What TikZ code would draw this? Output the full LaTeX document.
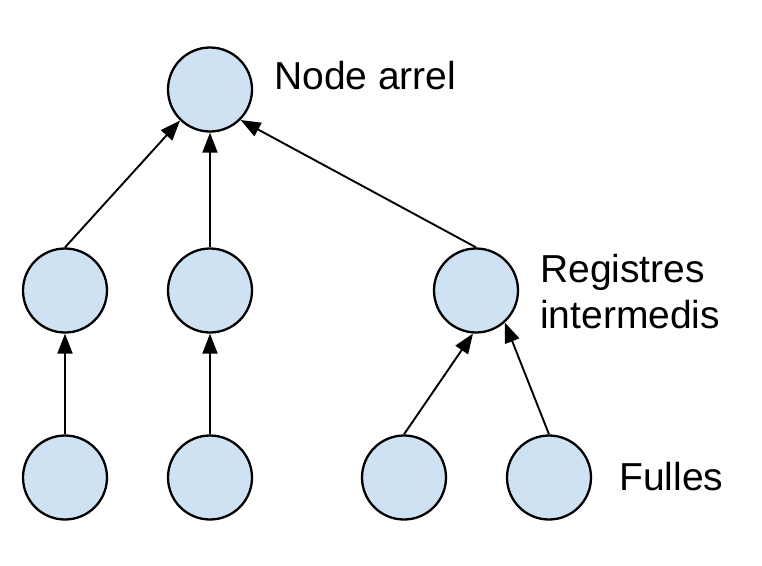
\documentclass[tikz,border=0pt]{standalone}
\usepackage{fontspec}
\setmainfont{Liberation Sans}
\usetikzlibrary{arrows.meta}
\definecolor{nodefill}{HTML}{CFE2F3}
\begin{document}
\begin{tikzpicture}[x=1pt,y=-1pt,
  treenode/.style={circle,draw=black,fill=nodefill,line width=2.3pt,minimum size=84pt,inner sep=0pt},
  edge/.style={line width=1.9pt,-{Triangle[length=20pt,width=15pt]}},
  lbl/.style={inner sep=0pt,anchor=base west,font=\fontsize{39}{46}\selectfont,align=left}]
\useasboundingbox[fill=white] (0,0) rectangle (762,565);
\node[treenode] (r) at (210,89.5) {};
\node[treenode] (m1) at (65,290.5) {};
\node[treenode] (m2) at (210,290.5) {};
\node[treenode] (m3) at (476,290.5) {};
\node[treenode] (l1) at (65,477.5) {};
\node[treenode] (l2) at (210,477.5) {};
\node[treenode] (l3) at (404,477.5) {};
\node[treenode] (l4) at (549,477.5) {};
\draw[edge] (m1.north) -- (r.226);
\draw[edge] (m2.north) -- (r.south);
\draw[edge] (m3.north) -- (r.315);
\draw[edge] (l1.north) -- (m1.south);
\draw[edge] (l2.north) -- (m2.south);
\draw[edge] (l3.north) -- (m3.266);
\draw[edge] (l4.north) -- (m3.312);
\node[lbl] (t1) at (274,89) {Node arrel};
\node[lbl] (t2) at (540,328) {Registres\\intermedis};
\node[lbl] (t3) at (619,490) {Fulles};
\end{tikzpicture}
\end{document}
